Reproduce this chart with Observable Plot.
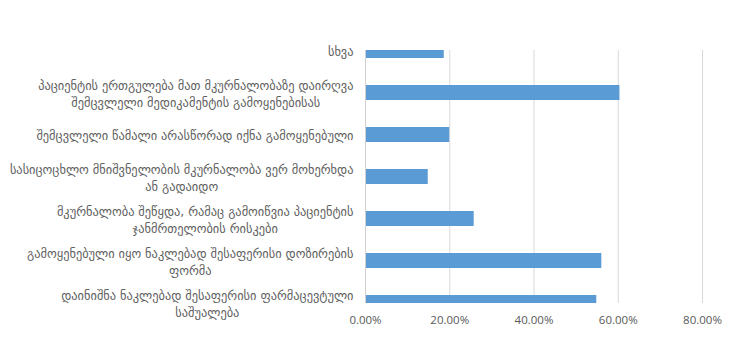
<!DOCTYPE html>
<html>
<head>
<meta charset="utf-8">
<script src="https://cdn.jsdelivr.net/npm/d3@7"></script>
<script src="https://cdn.jsdelivr.net/npm/@observablehq/plot@0.6"></script>
<style>
  html, body { margin: 0; padding: 0; background: #fff; }
  #chart svg { display: block; }
</style>
</head>
<body>
<div id="chart"></div>
<script>
const categories = [
  "სხვა",
  "პაციენტის ერთგულება მათ მკურნალობაზე დაირღვა\nშემცვლელი მედიკამენტის გამოყენებისას",
  "შემცვლელი წამალი არასწორად იქნა გამოყენებული",
  "სასიცოცხლო მნიშვნელობის მკურნალობა ვერ მოხერხდა\nან გადაიდო",
  "მკურნალობა შეწყდა, რამაც გამოიწვია პაციენტის\nჯანმრთელობის რისკები",
  "გამოყენებული იყო ნაკლებად შესაფერისი დოზირების\nფორმა",
  "დაინიშნა ნაკლებად შესაფერისი ფარმაცევტული\nსაშუალება"
];
const values = [0.187, 0.604, 0.200, 0.149, 0.258, 0.561, 0.549];
const xTicks = [0, 0.2, 0.4, 0.6, 0.8];

const data = categories.map((c, i) => ({category: c, value: values[i]}));

const labelFont = "DejaVu Sans";
const labelSize = 12.4;
const ctx = document.createElement("canvas").getContext("2d");
ctx.font = `${labelSize}px "${labelFont}"`;
const blockWidth = s => Math.max(...s.split("\n").map(l => ctx.measureText(l).width));

const labelMarks = data.map(d =>
  Plot.text([d], {
    y: "category",
    text: "category",
    frameAnchor: "left",
    textAnchor: "middle",
    lineHeight: 1.33,
    dx: -12 - blockWidth(d.category) / 2,
    fill: "#5f5f5f",
    fontFamily: labelFont,
    fontSize: labelSize
  })
);

const chart = Plot.plot({
  width: 731,
  height: 353,
  marginLeft: 365,
  marginRight: 29,
  marginTop: 50,
  marginBottom: 50,
  style: {fontFamily: "Open Sans", fontSize: "11.5px", color: "#595959", background: "#fff"},
  x: {
    domain: [0, 0.8],
    ticks: xTicks,
    tickFormat: d => (d * 100).toFixed(2) + "%",
    tickSize: 0,
    tickPadding: 12,
    label: null
  },
  y: {
    domain: categories,
    range: [29.5, 323.5],
    paddingInner: 0.64,
    paddingOuter: 0.32,
    axis: null
  },
  marks: [
    Plot.ruleX(xTicks, {stroke: "#d9d9d9"}),
    Plot.barX(data, {y: "category", x: "value", fill: "#5b9bd5", clip: true}),
    Plot.ruleX([0], {stroke: "#d0d0d0"}),
    ...labelMarks
  ]
});
document.getElementById("chart").appendChild(chart);
</script>
</body>
</html>
